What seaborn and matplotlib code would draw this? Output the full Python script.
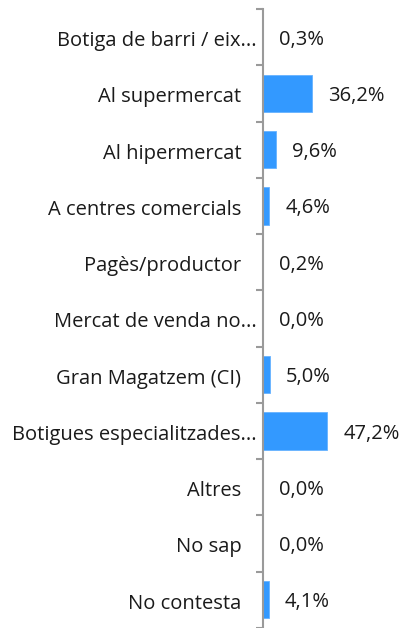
import pandas as pd
import seaborn as sns
import matplotlib.pyplot as plt
from matplotlib.transforms import ScaledTranslation

categories = ["Botiga de barri / eix...", "Al supermercat", "Al hipermercat",
              "A centres comercials", "Pagès/productor", "Mercat de venda no...",
              "Gran Magatzem (CI)", "Botigues especialitzades...", "Altres",
              "No sap", "No contesta"]
values = [0.3, 36.2, 9.6, 4.6, 0.2, 0.0, 5.0, 47.2, 0.0, 0.0, 4.1]

data = pd.DataFrame({"cat": categories, "pct": values})

sns.set_style("white")
plt.rcParams['font.family'] = ['Open Sans', 'DejaVu Sans']
text_color = "#1a1a1a"
grey = "#9a9a9a"
fsize = 14.5

fig = plt.figure(figsize=(4.02, 6.28), dpi=100)
ax = fig.add_axes([263 / 402, 0.0, 136 / 402, 1 - 9 / 628])
sns.barplot(data=data, x="pct", y="cat", orient="h", color="#3399ff",
            saturation=1, width=0.66, edgecolor="#66b2ff", linewidth=0.6, ax=ax)

ax.set_xlim(0, 100)
ax.set_ylim(len(categories) - 0.5, -0.5)
ax.set(xlabel="", ylabel="")
ax.set_xticks([])

for side in ["top", "right", "bottom"]:
    ax.spines[side].set_visible(False)
ax.spines["left"].set_color(grey)
ax.spines["left"].set_linewidth(1.5)

ax.set_yticks(range(len(categories)))
ax.set_yticklabels(categories)
ax.set_yticks([i - 0.5 for i in range(len(categories) + 1)], minor=True)
ax.tick_params(axis="y", which="major", length=0, pad=15.5,
               labelsize=fsize, labelcolor=text_color)
ax.tick_params(axis="y", which="minor", length=5, width=1.5, color=grey,
               direction="out", left=True)

shift = ScaledTranslation(11 / 72, -1 / 72, fig.dpi_scale_trans)
down = ScaledTranslation(0, -1 / 72, fig.dpi_scale_trans)
for lab in ax.get_yticklabels():
    if lab.get_text().endswith("..."):
        lab.set_transform(lab.get_transform() + shift)
    else:
        lab.set_transform(lab.get_transform() + down)

texts = ax.bar_label(ax.containers[0],
                     labels=[f"{v:.1f}%".replace(".", ",") for v in values],
                     padding=11.5, fontsize=fsize, color=text_color)
for t in texts:
    t.set_verticalalignment("center_baseline")
    t.set_transform(t.get_transform() + down)

fig.savefig("out.png", dpi=100)
